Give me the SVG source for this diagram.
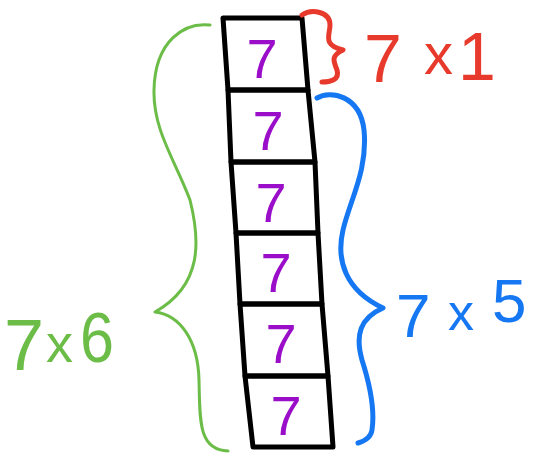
<svg xmlns="http://www.w3.org/2000/svg" width="534" height="453" viewBox="0 0 534 453">
<style>
.box{fill:none;stroke:#000;stroke-width:5;stroke-linejoin:round;stroke-linecap:round}
.seven{font-family:"Liberation Sans",Arial,sans-serif;font-size:56px;fill:#9b0ec9;text-anchor:middle}
.brace{fill:none;stroke-linecap:round;stroke-linejoin:round}
.lbl{font-family:"Liberation Sans",Arial,sans-serif}
</style>
<rect width="534" height="453" fill="#fff"/>
<g id="box1"><polygon class="box" points="223,18 302,18 308,90 228,90"/><text class="seven" x="262" y="78">7</text></g>
<g id="box2"><polygon class="box" points="228,90 308,90 315,162 231,162"/><text class="seven" x="268" y="150">7</text></g>
<g id="box3"><polygon class="box" points="231,162 315,162 318,233 236,233"/><text class="seven" x="271" y="222">7</text></g>
<g id="box4"><polygon class="box" points="236,233 318,233 322,304 240,304"/><text class="seven" x="276" y="292">7</text></g>
<g id="box5"><polygon class="box" points="240,304 322,304 328,376 245,376"/><text class="seven" x="281" y="363">7</text></g>
<g id="box6"><polygon class="box" points="245,376 328,376 333,447 253,447"/><text class="seven" x="286" y="435">7</text></g>
<g id="connectors">
<path class="brace" stroke="#e83a2c" stroke-width="5" d="M302,15 C312,8 330,12 330,25 C330,35 322,45 343,50 C330,56 334,62 337,70 C340,80 330,82 322,82"/>
<path class="brace" stroke="#1677f2" stroke-width="5" d="M317,98 C330,90 360,95 364,130 C368,170 350,200 343,230 C336,260 345,290 383,308 C360,318 355,335 362,360 C370,385 375,410 372,430 C371,437 365,441 358,443"/>
<path class="brace" stroke="#6cbd48" stroke-width="3" d="M210,25 C185,22 155,40 154,90 C153,130 175,160 190,200 C200,240 203,285 155,312 C180,315 198,340 199,380 C200,420 198,450 228,451"/>
</g>
<g id="label-red"><text class="lbl" y="82" fill="#e83a2c"><tspan x="364" font-size="68">7</tspan><tspan x="424" y="74" font-size="58">x</tspan><tspan x="458" y="80" font-size="68">1</tspan></text></g>
<g id="label-blue"><text class="lbl" y="337" fill="#1677f2"><tspan x="396" font-size="62">7</tspan><tspan x="448" y="330" font-size="52">x</tspan><tspan x="492" y="322" font-size="62">5</tspan></text></g>
<g id="label-green"><text class="lbl" y="370" fill="#6cbd48"><tspan x="4" font-size="72">7</tspan><tspan x="46" y="362" font-size="54">x</tspan><tspan x="80" y="362" font-size="70" textLength="34" lengthAdjust="spacingAndGlyphs">6</tspan></text></g>
</svg>
